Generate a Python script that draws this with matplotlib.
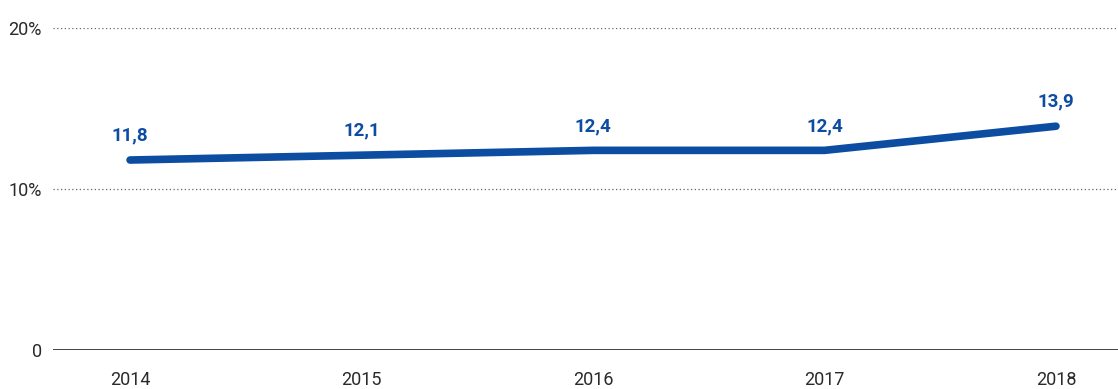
import matplotlib
matplotlib.use('Agg')
import matplotlib.pyplot as plt

plt.rcParams['font.family'] = ['Roboto', 'DejaVu Sans']

years = [2014, 2015, 2016, 2017, 2018]
values = [11.8, 12.1, 12.4, 12.4, 13.9]
labels = ['11,8', '12,1', '12,4', '12,4', '13,9']
yticks = [0, 10, 20]
ytick_labels = ['0', '10%', '20%']

blue = '#0c4da2'

fig = plt.figure(figsize=(11.18, 3.89), dpi=100)
ax = fig.add_axes([0.0474, 0.1003, 0.9526, 0.8277])

ax.plot(years, values, color=blue, lw=5.5, solid_capstyle='round', solid_joinstyle='round', zorder=3)
for x, v, t in zip(years, values, labels):
    ax.annotate(t, (x, v), xytext=(0, 11), textcoords='offset points', ha='center', va='bottom',
                color=blue, fontsize=13.5, fontweight='bold')

for y in [10, 20]:
    ax.axhline(y, color='#666666', lw=0.9, ls=(0, (1, 2)), zorder=1)
ax.axhline(0, color='#222222', lw=1.2, zorder=2)

ax.set_xlim(2014 - 0.333, 2018 + 0.268)
ax.set_ylim(0, 20)
ax.set_yticks(yticks)
ax.set_yticklabels(ytick_labels)
ax.set_xticks(years)
ax.set_xticklabels([str(y) for y in years])
ax.tick_params(axis='both', length=0, labelsize=13, colors='#2a2a2a')
ax.tick_params(axis='y', pad=8)
ax.tick_params(axis='x', pad=15)
for s in ax.spines.values():
    s.set_visible(False)
ax.set_facecolor('none')

fig.savefig('out.png', dpi=100)
